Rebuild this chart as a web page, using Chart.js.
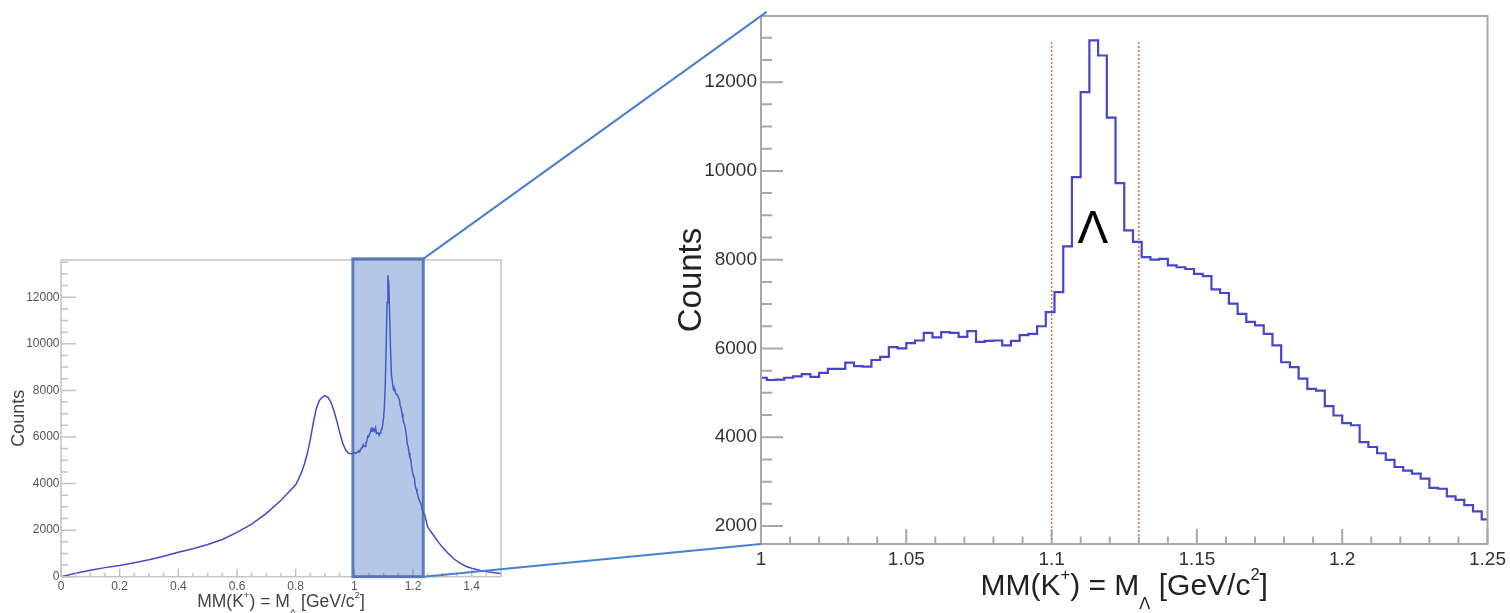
<!DOCTYPE html>
<html>
<head>
<meta charset="utf-8">
<title>Missing mass MM(K+)</title>
<script src="https://cdn.jsdelivr.net/npm/chart.js@4.4.1/dist/chart.umd.min.js"></script>
<style>
  html, body { margin:0; padding:0; background:#ffffff; width:1510px; height:613px; overflow:hidden; }
  canvas { position:absolute; display:block; }
  #overviewCanvas { left:0; top:240px; }
  #zoomCanvas { left:640px; top:0; }
  #linkCanvas { left:0; top:0; pointer-events:none; }
</style>
</head>
<body>
<canvas id="overviewCanvas" width="520" height="373"></canvas>
<canvas id="zoomCanvas" width="870" height="613"></canvas>
<canvas id="linkCanvas" width="1510" height="613"></canvas>
<script>
// ---------------- data ----------------
const binWidth = 0.003;          // GeV/c^2 per bin
const zoomFirstEdge = 0.999;     // first bin low edge shown in the zoomed panel
const zoomCounts = [
  5340, 5290, 5300, 5340, 5370, 5420, 5360, 5450, 5540, 5540,
  5680, 5600, 5590, 5740, 5810, 6030, 6000, 6120, 6180, 6350,
  6250, 6370, 6350, 6260, 6390, 6150, 6170, 6180, 6070, 6170,
  6300, 6330, 6500, 6820, 7270, 8300, 9860, 11775, 12940, 12600,
  11200, 9725, 8660, 8400, 8060, 8000, 8020, 7870, 7830, 7790,
  7680, 7630, 7330, 7250, 7010, 6780, 6600, 6520, 6330, 6070,
  5690, 5580, 5320, 5090, 5050, 4700, 4490, 4320, 4270, 3890,
  3780, 3640, 3490, 3330, 3250, 3180, 3070, 2860, 2840, 2670,
  2590, 2470, 2330, 2150
];
const overviewMassLow = [0, 0.05, 0.1, 0.15, 0.2, 0.25, 0.3, 0.35, 0.4, 0.45, 0.5, 0.55, 0.6, 0.65, 0.7, 0.75,
  0.8, 0.81, 0.82, 0.83, 0.84, 0.85, 0.86, 0.87, 0.88, 0.89, 0.9, 0.91, 0.92, 0.93, 0.94, 0.95, 0.96, 0.97, 0.98, 0.99];
const overviewCountsLow = [0, 150, 280, 390, 480, 600, 730, 880, 1050, 1200, 1380, 1600, 1900, 2260, 2720, 3280,
  3950, 4200, 4480, 4850, 5300, 5900, 6600, 7200, 7550, 7700, 7780, 7700, 7500, 7150, 6700, 6200, 5750, 5450, 5300, 5280];
const overviewMassHigh = [1.26, 1.27, 1.28, 1.29, 1.3, 1.32, 1.34, 1.36, 1.38, 1.4, 1.43, 1.46, 1.5];
const overviewCountsHigh = [1950, 1780, 1600, 1430, 1270, 1000, 760, 580, 450, 360, 270, 200, 140];

// tick labels
const overviewXTicks = [0, 0.2, 0.4, 0.6, 0.8, 1, 1.2, 1.4];
const overviewYTicks = [0, 2000, 4000, 6000, 8000, 10000, 12000];
const zoomXTicks = [1, 1.05, 1.1, 1.15, 1.2, 1.25];
const zoomYTicks = [2000, 4000, 6000, 8000, 10000, 12000];

const cutMass = [1.10, 1.13];
const cutTopCounts = 12900;
const peakLabel = 'Λ';
const peakLabelMass = 1.1142;
const peakLabelCounts = 8370;
const highlightMass = [0.995, 1.235];
const highlightTopCounts = 13650;

const yTitle = 'Counts';
const xTitleParts = [['MM(K', 'n'], ['+', 'sup'], [') = M', 'n'], ['Λ', 'sub'], [' [GeV/c', 'n'], ['2', 'sup'], [']', 'n']];
const overviewXRange = [0, 1.5], overviewYRange = [0, 13600];
const zoomXRange = [1.0, 1.25], zoomYRange = [1595, 13490];

// ---------------- derived structures ----------------
const FONT = "'Liberation Sans', Arial, Helvetica, sans-serif";
const zoomEdges = zoomCounts.map((_, i) => +(zoomFirstEdge + i * binWidth).toFixed(3));
const histPoints = zoomCounts.map((c, i) => ({ x: zoomEdges[i], y: c }));
histPoints.push({ x: +(zoomFirstEdge + zoomCounts.length * binWidth).toFixed(3), y: zoomCounts[zoomCounts.length - 1] });

const overviewPoints = []
  .concat(overviewMassLow.map((m, i) => ({ x: m, y: overviewCountsLow[i] })))
  .concat(zoomCounts.map((c, i) => ({ x: +(zoomEdges[i] + binWidth / 2).toFixed(4), y: c })))
  .concat(overviewMassHigh.map((m, i) => ({ x: m, y: overviewCountsHigh[i] })));

// ---------------- helpers ----------------
function fmtNum(v) { return String(Math.round(v * 1000) / 1000); }

function drawRich(ctx, parts, cx, baseline, size, color) {
  const items = parts.map(([t, k]) => {
    const fs = k === 'n' ? size : size * 0.55;
    ctx.font = fs + 'px ' + FONT;
    return { t, k, fs, w: ctx.measureText(t).width };
  });
  const total = items.reduce((s, p) => s + p.w, 0);
  let x = cx - total / 2;
  ctx.fillStyle = color;
  ctx.textAlign = 'left';
  ctx.textBaseline = 'alphabetic';
  for (const p of items) {
    ctx.font = p.fs + 'px ' + FONT;
    const dy = p.k === 'sup' ? -size * 0.5 : (p.k === 'sub' ? size * 0.45 : 0);
    ctx.fillText(p.t, x, baseline + dy);
    x += p.w;
  }
}

function framePlugin(spec) {
  return {
    id: 'rootFrame',
    afterDraw(chart) {
      const { ctx, chartArea: a, scales: { x, y } } = chart;
      ctx.save();
      ctx.strokeStyle = spec.color;
      ctx.lineWidth = spec.lw;
      ctx.beginPath();
      const y0 = Math.ceil(y.min / spec.yMinor - 1e-9), y1 = Math.floor(y.max / spec.yMinor + 1e-9);
      for (let i = y0; i <= y1; i++) {
        const v = i * spec.yMinor;
        const major = Math.abs(v / spec.yMajor - Math.round(v / spec.yMajor)) < 1e-6;
        const py = y.getPixelForValue(v);
        ctx.moveTo(a.left, py);
        ctx.lineTo(a.left + (major ? spec.yMajLen : spec.yMinLen), py);
      }
      const x0 = Math.ceil(x.min / spec.xMinor - 1e-6), x1 = Math.floor(x.max / spec.xMinor + 1e-6);
      for (let i = x0; i <= x1; i++) {
        const v = i * spec.xMinor;
        const major = Math.abs(v / spec.xMajor - Math.round(v / spec.xMajor)) < 1e-6;
        const px = x.getPixelForValue(v);
        ctx.moveTo(px, a.bottom);
        ctx.lineTo(px, a.bottom - (major ? spec.xMajLen : spec.xMinLen));
      }
      ctx.stroke();
      ctx.strokeRect(a.left, a.top, a.right - a.left, a.bottom - a.top);
      ctx.restore();
      drawRich(ctx, xTitleParts, (a.left + a.right) / 2, a.bottom + spec.titleOffset, spec.titleSize, spec.titleColor);
      if (spec.after) spec.after(chart);
    }
  };
}

function axisOpts(range, tickValues, fontSize, color, pad, fitKey, fitVal, title) {
  return {
    type: 'linear',
    min: range[0], max: range[1],
    grid: { display: false, drawTicks: false },
    border: { display: false },
    ticks: {
      autoSkip: false, maxRotation: 0,
      padding: pad, color: color, font: { family: FONT, size: fontSize },
      callback: (v) => fmtNum(v)
    },
    afterBuildTicks: (s) => { s.ticks = tickValues.map(v => ({ value: v })); },
    title: title || { display: false },
    afterFit: (s) => { s[fitKey] = fitVal; }
  };
}

// ---------------- overview (left) ----------------
const overviewChart = new Chart(document.getElementById('overviewCanvas'), {
  type: 'line',
  data: {
    datasets: [{
      data: overviewPoints,
      borderColor: '#4848cc',
      borderWidth: 1.5,
      pointRadius: 0,
      tension: 0,
      fill: false
    }]
  },
  options: {
    responsive: false, animation: false, events: [],
    layout: { padding: { left: 0, top: 20, right: 19, bottom: 0 } },
    plugins: { legend: { display: false }, tooltip: { enabled: false } },
    scales: {
      x: axisOpts(overviewXRange, overviewXTicks, 12, '#555', 2.8, 'height', 36.3),
      y: axisOpts(overviewYRange, overviewYTicks, 12, '#555', 1.5, 'width', 61,
        { display: true, text: yTitle, color: '#444', font: { family: FONT, size: 18 }, padding: { top: 8, bottom: 0 } })
    }
  },
  plugins: [framePlugin({
    color: '#c4c4c4', lw: 1.5,
    yMinor: 500, yMajor: 2000, yMajLen: 15, yMinLen: 7,
    xMinor: 0.05, xMajor: 0.2, xMajLen: 8, xMinLen: 4,
    titleOffset: 30, titleSize: 17.5, titleColor: '#444',
    after(chart) {
      const { ctx, scales: { x, y } } = chart;
      const l = x.getPixelForValue(highlightMass[0]), r = x.getPixelForValue(highlightMass[1]);
      const t = y.getPixelForValue(highlightTopCounts), b = y.getPixelForValue(0);
      ctx.save();
      ctx.fillStyle = 'rgba(68,114,196,0.40)';
      ctx.fillRect(l, t, r - l, b - t);
      ctx.strokeStyle = 'rgba(60,100,175,0.80)';
      ctx.lineWidth = 3;
      ctx.strokeRect(l, t, r - l, b - t);
      ctx.restore();
    }
  })]
});

// ---------------- zoom (right) ----------------
const cutDatasets = cutMass.map(m => ({
  data: [{ x: m, y: zoomYRange[0] }, { x: m, y: cutTopCounts }],
  borderColor: 'rgba(225,70,55,0.85)',
  borderWidth: 1.5,
  borderDash: [2, 2],
  pointRadius: 0,
  tension: 0,
  fill: false
}));

const zoomChart = new Chart(document.getElementById('zoomCanvas'), {
  type: 'line',
  data: {
    datasets: [{
      data: histPoints,
      stepped: 'before',
      borderColor: '#4646c6',
      borderWidth: 2.2,
      pointRadius: 0,
      fill: false
    }].concat(cutDatasets)
  },
  options: {
    responsive: false, animation: false, events: [],
    layout: { padding: { left: 0, top: 16, right: 21, bottom: 0 } },
    plugins: { legend: { display: false }, tooltip: { enabled: false } },
    scales: {
      x: axisOpts(zoomXRange, zoomXTicks, 19, '#333', 4, 'height', 69),
      y: axisOpts(zoomYRange, zoomYTicks, 19, '#333', 4, 'width', 121,
        { display: true, text: yTitle, color: '#222', font: { family: FONT, size: 33 }, padding: { top: 32, bottom: 0 } })
    }
  },
  plugins: [framePlugin({
    color: '#a8a8a8', lw: 2,
    yMinor: 500, yMajor: 2000, yMajLen: 22, yMinLen: 11,
    xMinor: 0.01, xMajor: 0.05, xMajLen: 15, xMinLen: 7.5,
    titleOffset: 51, titleSize: 30, titleColor: '#222',
    after(chart) {
      const { ctx, scales: { x, y } } = chart;
      ctx.save();
      ctx.font = '46px ' + FONT;
      ctx.fillStyle = '#000';
      ctx.textAlign = 'center';
      ctx.textBaseline = 'alphabetic';
      ctx.fillText(peakLabel, x.getPixelForValue(peakLabelMass), y.getPixelForValue(peakLabelCounts));
      ctx.restore();
    }
  })]
});

// ---------------- connecting lines ----------------
(function drawLinks() {
  const lc = document.getElementById('linkCanvas').getContext('2d');
  const oc = document.getElementById('overviewCanvas'), zc = document.getElementById('zoomCanvas');
  const ox = oc.offsetLeft, oy = oc.offsetTop, zx = zc.offsetLeft, zy = zc.offsetTop;
  const sx = overviewChart.scales.x, sy = overviewChart.scales.y;
  const rx = ox + sx.getPixelForValue(highlightMass[1]);
  const rt = oy + sy.getPixelForValue(highlightTopCounts);
  const rb = oy + sy.getPixelForValue(0);
  const a = zoomChart.chartArea;
  const tx = zx + a.left, ty = zy + a.top, bx = zx + a.left, by = zy + a.bottom;
  const dx = tx - rx, dy = ty - rt, len = Math.hypot(dx, dy), ext = 7;
  lc.strokeStyle = '#4a7fd4';
  lc.lineWidth = 2;
  lc.beginPath();
  lc.moveTo(rx, rt);
  lc.lineTo(tx + dx / len * ext, ty + dy / len * ext);
  lc.moveTo(rx, rb);
  lc.lineTo(bx, by);
  lc.stroke();
})();
</script>
</body>
</html>
